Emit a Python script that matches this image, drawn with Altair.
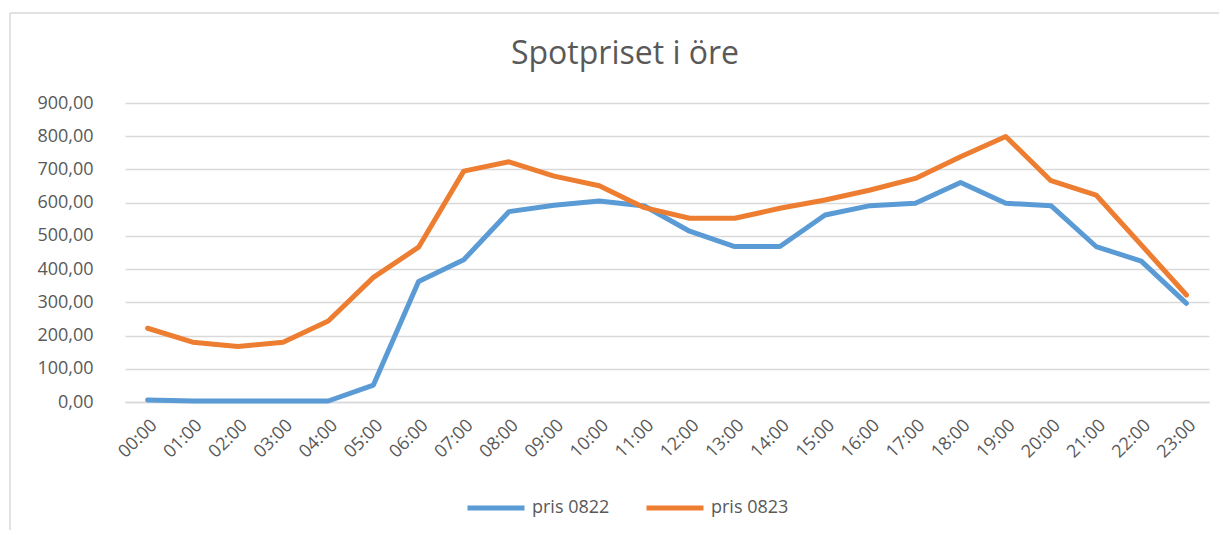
import altair as alt
import pandas as pd

hours = ["00:00", "01:00", "02:00", "03:00", "04:00", "05:00", "06:00", "07:00",
         "08:00", "09:00", "10:00", "11:00", "12:00", "13:00", "14:00", "15:00",
         "16:00", "17:00", "18:00", "19:00", "20:00", "21:00", "22:00", "23:00"]
pris_0822 = [6, 3, 3, 3, 3, 51, 363, 428, 573, 592, 605, 590, 514, 468, 468, 563,
             591, 598, 661, 598, 591, 468, 424, 297]
pris_0823 = [222, 180, 167, 180, 244, 375, 466, 695, 723, 680, 651, 585, 553, 553,
             583, 608, 638, 673, 738, 799, 666, 623, 473, 322]
series_names = ["pris 0822", "pris 0823"]
series_colors = ["#5B9BD5", "#ED7D31"]
y_ticks = [0, 100, 200, 300, 400, 500, 600, 700, 800, 900]

rows = []
for name, vals in zip(series_names, [pris_0822, pris_0823]):
    for h, v in zip(hours, vals):
        rows.append({"tid": h, "pris": v, "serie": name})
df = pd.DataFrame(rows)

FONT = "Open Sans"
GREY = "#595959"
GRID = "#d9d9d9"

lines = alt.Chart(df).mark_line(strokeWidth=5, strokeCap="round", strokeJoin="round").encode(
    x=alt.X("tid:O", sort=hours, scale=alt.Scale(type="point", padding=0.5),
            axis=alt.Axis(title=None, labelAngle=-45, ticks=False, domain=True,
                          domainColor=GRID, domainWidth=1.5, grid=False,
                          labelPadding=14, labelFont=FONT, labelFontSize=18,
                          labelColor=GREY)),
    y=alt.Y("pris:Q", scale=alt.Scale(domain=[0, 900], nice=False),
            axis=alt.Axis(title=None, values=y_ticks, grid=True, gridColor=GRID,
                          gridWidth=1.5, domain=False, ticks=False, labelPadding=32,
                          labelFont=FONT, labelFontSize=18, labelColor=GREY,
                          labelExpr="replace(format(datum.value, '.2f'), '.', ',')")),
    color=alt.Color("serie:N", scale=alt.Scale(domain=series_names, range=series_colors),
                    legend=alt.Legend(title=None, orient="none", direction="horizontal",
                                      legendX=340, legendY=374, symbolType="stroke",
                                      symbolSize=3249, symbolStrokeWidth=5,
                                      labelFont=FONT, labelFontSize=18, labelColor=GREY,
                                      labelOffset=5, columnPadding=26, padding=0)),
)

one = pd.DataFrame({"f": [0]})
frame_top = alt.Chart(one).mark_rule(stroke=GRID, strokeWidth=1.5).encode(
    x=alt.value(-115), x2=alt.value(1200), y=alt.value(-90))
frame_left = alt.Chart(one).mark_rule(stroke=GRID, strokeWidth=1.5).encode(
    x=alt.value(-115), y=alt.value(-90), y2=alt.value(520))

chart = alt.layer(frame_top, frame_left, lines).properties(
    width=1084, height=299,
    autosize=alt.AutoSizeParams(type="none"),
    padding={"left": 117, "top": 95, "right": 10, "bottom": 128},
    title=alt.TitleParams("Spotpriset i öre", font=FONT, fontSize=32, fontWeight="normal",
                          color=GREY, anchor="middle", dx=-42, offset=-84,
                          baseline="alphabetic"),
).configure_view(stroke=None)

chart.save("out.html", embed_options={"renderer": "svg", "actions": False})
